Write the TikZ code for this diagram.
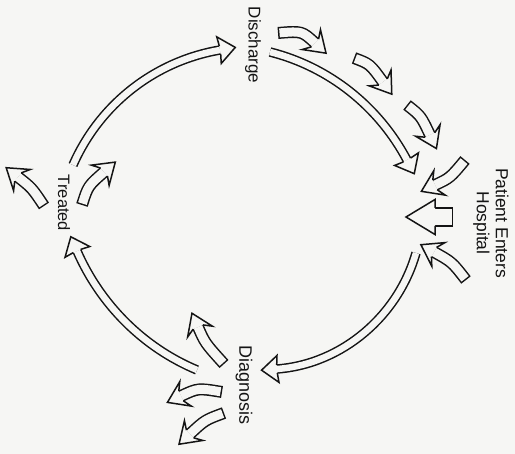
\documentclass[tikz,border=0pt]{standalone}
\usepackage{fontspec}
\setmainfont{Liberation Sans}
\usetikzlibrary{decorations.markings}
\definecolor{paper}{RGB}{246,246,244}
\definecolor{ink}{RGB}{20,20,20}
\newcommand{\bigtip}{\filldraw[fill=paper, draw=ink, line width=1.5pt, line join=miter] (0pt,4pt) -- (-1pt,13.5pt) -- (15.5pt,0pt) -- (-1pt,-13.5pt) -- (0pt,-4pt);}
\newcommand{\smalltip}{\filldraw[fill=paper, draw=ink, line width=1.5pt, line join=miter] (0pt,5.25pt) -- (-5pt,13.5pt) -- (15pt,0pt) -- (-5pt,-13.5pt) -- (0pt,-5.25pt);}
\newcommand{\blocktip}{\filldraw[fill=paper, draw=ink, line width=1.5pt, line join=miter] (0pt,9pt) -- (0pt,17.5pt) -- (29pt,0pt) -- (0pt,-17.5pt) -- (0pt,-9pt);}
\tikzset{
  bigarrow/.style={draw=ink, line width=9.5pt,
    postaction={draw=paper, line width=6.5pt},
    postaction={decorate, decoration={markings, mark=at position 1 with {\bigtip}}}},
  smallarrow/.style={draw=ink, line width=12pt,
    postaction={draw=paper, line width=9pt, shorten <=1.5pt},
    postaction={decorate, decoration={markings, mark=at position 1 with {\smalltip}}}},
  blockarrow/.style={draw=ink, line width=19.5pt,
    postaction={draw=paper, line width=16.5pt, shorten <=1.5pt},
    postaction={decorate, decoration={markings, mark=at position 1 with {\blocktip}}}},
  lbl/.style={inner sep=0pt, text=ink, rotate=-90}
}
\begin{document}
\begin{tikzpicture}[x=1pt, y=-1pt]
\useasboundingbox (0,0) rectangle (515,454);
\fill[paper] (0,0) rectangle (515,454);

% labels
\node[lbl, font=\fontsize{17}{20}\selectfont] (dis) at (253,45) {Discharge};
\node[lbl, align=center, font=\fontsize{17.5}{19}\selectfont] (pat) at (491,223) {Patient Enters\\Hospital};
\node[lbl, font=\fontsize{18}{21}\selectfont] (dia) at (244,385) {Diagnosis};
\node[lbl, font=\fontsize{16.5}{20}\selectfont] (tre) at (64,203) {Treated};

% big cycle arrows (circular arcs as cubic curves)
\coordinate (t1) at (73,165);  \coordinate (h1) at (220,50);
\coordinate (t2) at (270,52);  \coordinate (h2) at (407,160);
\coordinate (t3) at (416,253); \coordinate (h3) at (277,369);
\coordinate (t4) at (197,370); \coordinate (h4) at (77,251);
\draw[bigarrow] (t1) .. controls (99.6,104.4) and (154.7,61.1) .. (h1);
\draw[bigarrow] (t2) .. controls (329,66.9) and (378.5,106.3) .. (h2);
\draw[bigarrow] (t3) .. controls (398.1,315.9) and (342.2,364.1) .. (h3);
\draw[bigarrow] (t4) .. controls (143.2,347.5) and (100.3,304.4) .. (h4);

% small arrows near Discharge / Patient
\coordinate (sa) at (278,33);  \coordinate (ca) at (302,31);  \coordinate (ea) at (315,43);
\coordinate (sb) at (354,58);  \coordinate (cb) at (370,64);  \coordinate (eb) at (383,82);
\coordinate (sc) at (407,105); \coordinate (cc) at (421,116); \coordinate (ec) at (430,135);
\coordinate (sd) at (465,160); \coordinate (cd) at (450,178); \coordinate (ed) at (435,185);
\coordinate (se) at (466,280); \coordinate (ce) at (452,262); \coordinate (ee) at (434,252);
\draw[smallarrow] (sa) .. controls (ca) .. (ea);
\draw[smallarrow] (sb) .. controls (cb) .. (eb);
\draw[smallarrow] (sc) .. controls (cc) .. (ec);
\draw[smallarrow] (sd) .. controls (cd) .. (ed);
\draw[smallarrow] (se) .. controls (ce) .. (ee);
\coordinate (sk) at (453,217); \coordinate (ek) at (435,217);
\draw[blockarrow] (sk) -- (ek);

% small arrows near Diagnosis
\coordinate (sf) at (224,364); \coordinate (cf) at (205,343); \coordinate (ef) at (198,327);
\coordinate (sg) at (222,392); \coordinate (cg) at (198,388); \coordinate (eg) at (181,396);
\coordinate (sh) at (224,413); \coordinate (ch) at (205,420); \coordinate (eh) at (190,434);
\draw[smallarrow] (sf) .. controls (cf) .. (ef);
\draw[smallarrow] (sg) .. controls (cg) .. (eg);
\draw[smallarrow] (sh) .. controls (ch) .. (eh);

% small arrows near Treated
\coordinate (si) at (44,206); \coordinate (ci) at (32,188); \coordinate (ei) at (18,177);
\coordinate (sj) at (82,205); \coordinate (cj) at (88,186); \coordinate (ej) at (104,172);
\draw[smallarrow] (si) .. controls (ci) .. (ei);
\draw[smallarrow] (sj) .. controls (cj) .. (ej);
\end{tikzpicture}
\end{document}
